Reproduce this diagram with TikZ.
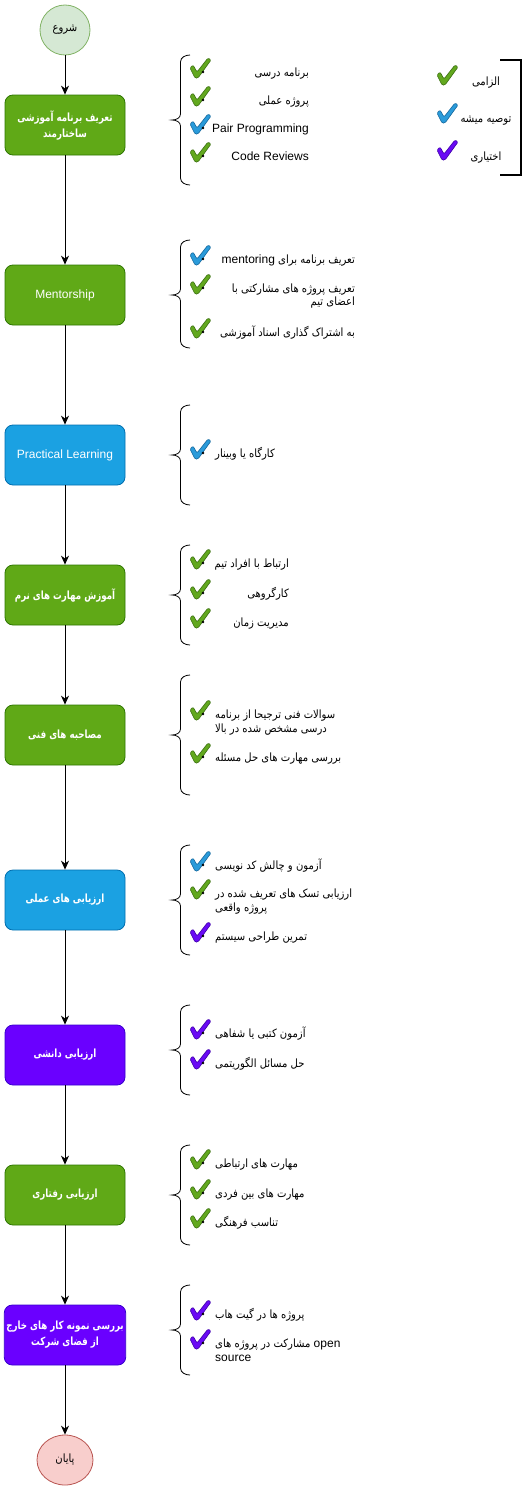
\documentclass[tikz,border=0pt]{standalone}
\usepackage{fontspec}
\setmainfont{Liberation Sans}
\newfontfamily\fa[Script=Arabic,Scale=0.95,FakeStretch=0.88]{DejaVu Sans}
\newfontfamily\fab[Script=Arabic,Scale=0.94,FakeStretch=0.77]{DejaVu Sans Bold}
\TeXXeTstate=1
\usetikzlibrary{arrows.meta,shapes.geometric}
\newcommand\fatxt[1]{{\fa\beginR #1\endR}}
\newcommand\fabtxt[1]{{\fab\beginR #1\endR}}
\definecolor{boxG}{HTML}{60A917}\definecolor{boxGd}{HTML}{2D7600}
\definecolor{boxB}{HTML}{1BA1E2}\definecolor{boxBd}{HTML}{006EAF}
\definecolor{boxP}{HTML}{6A00FF}\definecolor{boxPd}{HTML}{3700CC}
\definecolor{stF}{HTML}{D5E8D4}\definecolor{stD}{HTML}{82B366}
\definecolor{enF}{HTML}{F8CECC}\definecolor{enD}{HTML}{B85450}
\definecolor{gF}{HTML}{62A81E}\definecolor{gD}{HTML}{3B6E12}
\definecolor{bF}{HTML}{2A9BDA}\definecolor{bD}{HTML}{15679C}
\definecolor{pF}{HTML}{6A0AF5}\definecolor{pD}{HTML}{3E00A8}
\tikzset{
  pics/chk/.style={code={\filldraw[fill=#1F,draw=#1D,line width=0.6pt,rounded corners=1.2pt]
    (-7,-9) -- (-4,-12) -- (0,-5) -- (11,-19) -- (14,-17) -- (1,1) -- (-2,1) -- cycle;}},
  box/.style={draw, rounded corners=8pt, minimum width=120pt, minimum height=60pt,
    text=white, line width=0.8pt, align=center, inner sep=2pt,
    font=\fontsize{12}{16}\selectfont},
  gbox/.style={box, fill=boxG, draw=boxGd},
  bbox/.style={box, fill=boxB, draw=boxBd},
  pbox/.style={box, fill=boxP, draw=boxPd},
  arr/.style={-{Stealth[length=9pt,width=8pt]}, line width=0.8pt},
  itR/.style={anchor=base east, inner sep=0pt, font=\fontsize{12}{14}\selectfont},
  itL/.style={anchor=base west, inner sep=0pt, font=\fontsize{12}{14}\selectfont},
  itC/.style={anchor=base, inner sep=0pt, font=\fontsize{12}{14}\selectfont},
  brc/.style={line width=0.8pt},
}
\newcommand\mybrace[3]{\draw[brc] (190,#1) to[out=180,in=90] (180.5,#1+7) -- (180.5,#2-6)
  to[out=-90,in=0] (172,#2) to[out=0,in=90] (180.5,#2+6) -- (180.5,#3-7) to[out=-90,in=180] (190,#3);}
\newcommand\myitem[3]{\pic at (197,#1+5) {chk=#2}; \ifnum#3=1 \fill (203,#1) circle (1.4);\fi}
\begin{document}
\begin{tikzpicture}[x=1pt,y=-1pt]
\useasboundingbox (0,0) rectangle (527,1491);
% flow nodes
\node[ellipse, draw=stD, fill=stF, line width=0.8pt, minimum width=50pt, minimum height=50pt, inner sep=0pt,
  font=\fontsize{12}{14}\selectfont] (s) at (65,30) {\fatxt{شروع}};
\node[gbox] (n1) at (65,125) {\fabtxt{تعریف برنامه آموزشی}\\\fabtxt{ساختارمند}};
\node[gbox] (n2) at (65,295) {Mentorship};
\node[bbox] (n3) at (65,455) {Practical Learning};
\node[gbox] (n4) at (65,595) {\fabtxt{آموزش مهارت های نرم}};
\node[gbox] (n5) at (65,735) {\fabtxt{مصاحبه های فنی}};
\node[bbox] (n6) at (65,900) {\fabtxt{ارزیابی های عملی}};
\node[pbox] (n7) at (65,1055) {\fabtxt{ارزیابی دانشی}};
\node[gbox] (n8) at (65,1195) {\fabtxt{ارزیابی رفتاری}};
\node[pbox] (n9) at (65,1335) {\fabtxt{بررسی نمونه کار های خارج}\\\fabtxt{از فضای شرکت}};
\node[ellipse, draw=enD, fill=enF, line width=0.8pt, minimum width=56pt, minimum height=50pt, inner sep=0pt,
  font=\fontsize{12}{14}\selectfont] (e) at (65,1460) {\fatxt{پایان}};
\draw[arr] (s) -- (n1);
\draw[arr] (n1) -- (n2);
\draw[arr] (n2) -- (n3);
\draw[arr] (n3) -- (n4);
\draw[arr] (n4) -- (n5);
\draw[arr] (n5) -- (n6);
\draw[arr] (n6) -- (n7);
\draw[arr] (n7) -- (n8);
\draw[arr] (n8) -- (n9);
\draw[arr] (n9) -- (e);
% braces
\mybrace{55}{120}{185}
\mybrace{240}{295}{348}
\mybrace{405}{455}{505}
\mybrace{545}{595}{645}
\mybrace{675}{735}{795}
\mybrace{845}{900}{955}
\mybrace{1005}{1050}{1095}
\mybrace{1145}{1195}{1245}
\mybrace{1285}{1330}{1375}
% list 1
\myitem{72}{g}{1}\node[itR] (a1) at (309,76) {\fatxt{برنامه درسی}};
\myitem{100}{g}{1}\node[itR] (a2) at (309,104) {\fatxt{پروژه عملی}};
\myitem{128}{b}{1}\node[itR] (a3) at (309,132) {Pair Programming};
\myitem{156}{g}{1}\node[itR] (a4) at (309,160) {Code Reviews};
% list 2
\myitem{259}{b}{1}\node[itR] (b1) at (355,263) {\fatxt{تعریف برنامه برای {\rmfamily\beginL mentoring\endL}}};
\myitem{288}{g}{1}\node[itR] (b2) at (355,292) {\fatxt{تعریف پروژه های مشارکتی با}};
\node[itR] (b2b) at (355,305) {\fatxt{اعضای تیم}};
\myitem{332}{g}{1}\node[itR] (b3) at (355,336) {\fatxt{به اشتراک گذاری اسناد آموزشی}};
% list 3
\myitem{453}{b}{1}\node[itL] (c1) at (215,457) {\fatxt{کارگاه یا وبینار}};
% list 4
\myitem{563}{g}{1}\node[itR] (d1) at (289,567) {\fatxt{ارتباط با افراد تیم}};
\myitem{593}{g}{1}\node[itR] (d2) at (289,597) {\fatxt{کارگروهی}};
\myitem{622}{g}{1}\node[itR] (d3) at (289,626) {\fatxt{مدیریت زمان}};
% list 5
\myitem{714}{g}{1}\node[itL] (e1) at (215,718) {\fatxt{سوالات فنی ترجیحا از برنامه}};
\node[itL] (e1b) at (215,732) {\fatxt{درسی مشخص شده در بالا}};
\myitem{757}{g}{1}\node[itL] (e2) at (215,761) {\fatxt{بررسی مهارت های حل مسئله}};
% list 6
\myitem{865}{b}{1}\node[itL] (f1) at (215,869) {\fatxt{آزمون و چالش کد نویسی}};
\myitem{893}{g}{1}\node[itL] (f2) at (215,897) {\fatxt{ارزیابی تسک های تعریف شده در}};
\node[itL] (f2b) at (215,911) {\fatxt{پروژه واقعی}};
\myitem{936}{p}{1}\node[itL] (f3) at (215,940) {\fatxt{تمرین طراحی سیستم}};
% list 7
\myitem{1033}{p}{1}\node[itL] (g1) at (215,1037) {\fatxt{آزمون کتبی یا شفاهی}};
\myitem{1063}{p}{1}\node[itL] (g2) at (215,1067) {\fatxt{حل مسائل الگوریتمی}};
% list 8
\myitem{1163}{g}{1}\node[itL] (h1) at (215,1167) {\fatxt{مهارت های ارتباطی}};
\myitem{1193}{g}{1}\node[itL] (h2) at (215,1197) {\fatxt{مهارت های بین فردی}};
\myitem{1222}{g}{1}\node[itL] (h3) at (215,1226) {\fatxt{تناسب فرهنگی}};
% list 9
\myitem{1314}{p}{1}\node[itL] (i1) at (215,1318) {\fatxt{پروژه ها در گیت هاب}};
\myitem{1343}{p}{1}\node[itL] (i2) at (215,1347) {\fatxt{مشارکت در پروژه های}\ open};
\node[itL] (i2b) at (215,1361) {source};
% legend
\pic at (444,84) {chk=g};
\pic at (444,122) {chk=b};
\pic at (444,159) {chk=p};
\node[itC] (l1) at (486,85) {\fatxt{الزامی}};
\node[itC] (l2) at (486,122) {\fatxt{توصیه میشه}};
\node[itC] (l3) at (486,160) {\fatxt{اختیاری}};
\draw[line width=1.2pt] (500,60) -- (521,60) -- (521,175) -- (500,175);
\end{tikzpicture}
\end{document}
